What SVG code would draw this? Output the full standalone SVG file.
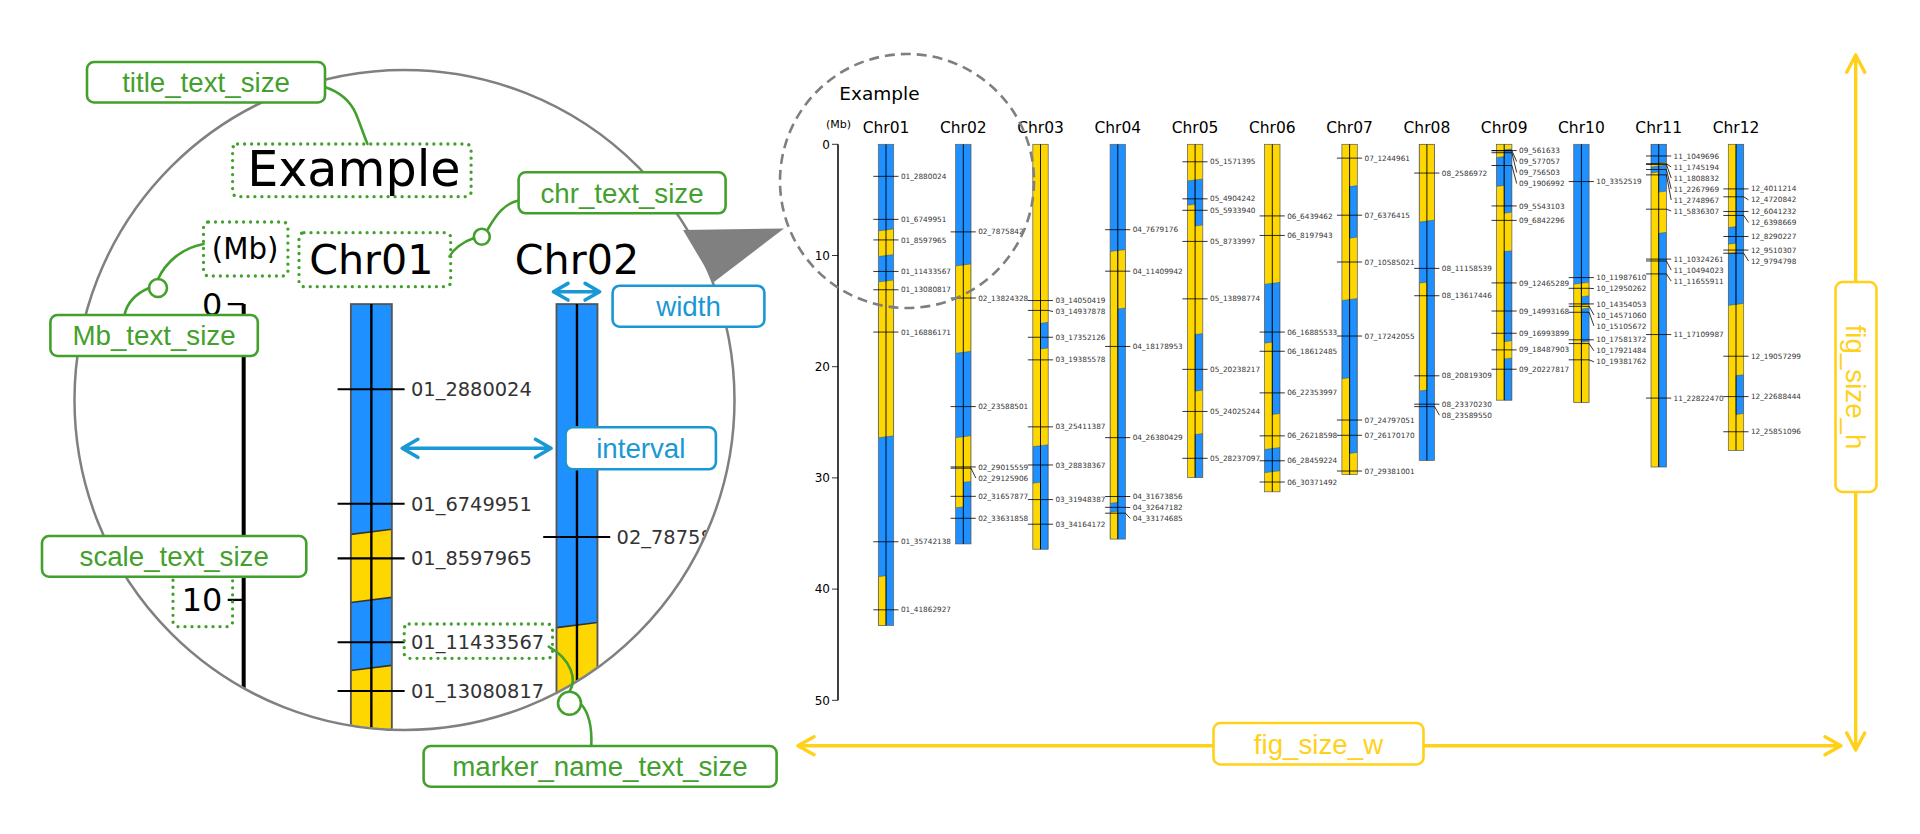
<svg xmlns="http://www.w3.org/2000/svg" xmlns:xlink="http://www.w3.org/1999/xlink" width="1920" height="834" viewBox="0 0 1920 834">
<style>
.cn{font-family:'DejaVu Sans',sans-serif;font-size:15.5px;text-anchor:middle;fill:#000}
.ml{font-family:'DejaVu Sans',sans-serif;font-size:7.3px;fill:#333}
.tl{font-family:'DejaVu Sans',sans-serif;font-size:12px;text-anchor:end;fill:#000}
.b{fill:#1E90FF}
.y{fill:#FFD700}
.sb{fill:#1E90FF;stroke:#333;stroke-width:0.055}
.sy{fill:#FFD700;stroke:#333;stroke-width:0.055}
.ol{fill:none;stroke:#555;stroke-width:0.7}
.cl{fill:none;stroke:#000;stroke-width:0.9}
.tk{fill:none;stroke:#000;stroke-width:0.8}
.gb{fill:#fff;stroke:#43a02d;stroke-width:2.6}
.bb{fill:#fff;stroke:#1a98d5;stroke-width:2.6}
.yb{fill:#fff;stroke:#FFD11A;stroke-width:2.6}
.db{fill:none;stroke:#43a02d;stroke-width:3.3;stroke-dasharray:0.01 7;stroke-linecap:round}
.at{font-family:'Liberation Sans',Arial,sans-serif;font-size:27.7px;text-anchor:middle}
.gt{fill:#43a02d}.bt{fill:#1a98d5}.yt{fill:#FFD11A}
.gc{fill:none;stroke:#43a02d;stroke-width:2.6;stroke-linecap:round}
.ba{fill:none;stroke:#1a98d5;stroke-width:3.6;stroke-linecap:round;stroke-linejoin:round}
.ya{fill:none;stroke:#FFD11A;stroke-width:3.4;stroke-linecap:round;stroke-linejoin:round}
</style>
<defs>
<clipPath id="magclip"><circle cx="404.5" cy="400" r="329"/></clipPath>
<clipPath id="k1"><rect x="-7.7" y="0" width="15.4" height="481.2"/></clipPath>
<clipPath id="k2"><rect x="-7.7" y="0" width="15.4" height="399.6"/></clipPath>
<clipPath id="k3"><rect x="-7.7" y="0" width="15.4" height="404.9"/></clipPath>
<clipPath id="k4"><rect x="-7.7" y="0" width="15.4" height="394.8"/></clipPath>
<clipPath id="k5"><rect x="-7.7" y="0" width="15.4" height="333.2"/></clipPath>
<clipPath id="k6"><rect x="-7.7" y="0" width="15.4" height="347.5"/></clipPath>
<clipPath id="k7"><rect x="-7.7" y="0" width="15.4" height="330.3"/></clipPath>
<clipPath id="k8"><rect x="-7.7" y="0" width="15.4" height="316.3"/></clipPath>
<clipPath id="k9"><rect x="-7.7" y="0" width="15.4" height="255.9"/></clipPath>
<clipPath id="k10"><rect x="-7.7" y="0" width="15.4" height="258.1"/></clipPath>
<clipPath id="k11"><rect x="-7.7" y="0" width="15.4" height="322.7"/></clipPath>
<clipPath id="k12"><rect x="-7.7" y="0" width="15.4" height="306.1"/></clipPath>
</defs>
<rect width="1920" height="834" fill="#fff"/>

<g id="chart">
<g id="chart-title">
<text x="839.3" y="100" font-family="'DejaVu Sans',sans-serif" font-size="18.5px">Example</text>
<text x="826" y="127.5" font-family="'DejaVu Sans',sans-serif" font-size="11px">(Mb)</text>
</g>
<g id="axis">
<path d="M838 144.3V700.3" stroke="#000" stroke-width="1.5" fill="none"/>
<path class="tk" stroke-width="1.2" d="M832 144.3H838M832 255.5H838M832 366.7H838M832 477.9H838M832 589.1H838M832 700.3H838"/>
<text class="tl" x="830" y="148.6">0</text>
<text class="tl" x="830" y="259.8">10</text>
<text class="tl" x="830" y="371">20</text>
<text class="tl" x="830" y="482.2">30</text>
<text class="tl" x="830" y="593.4">40</text>
<text class="tl" x="830" y="704.6">50</text>
</g>

<g id="chr01" transform="translate(886,144.3)">
<text class="cn" y="-11.3">Chr01</text>
<g clip-path="url(#k1)"><rect class="b" x="-7.7" width="15.4" height="481.2"/>
<g transform="matrix(1,-0.125,0,1,0,0) scale(1,11.12)">
<rect class="sy" x="-7.7" y="7.7" width="15.4" height="2.3"/>
<rect class="sy" x="-7.7" y="12.3" width="15.4" height="14"/>
<rect class="sy" x="-7.7" y="38.8" width="7.7" height="4.8"/>
</g></g>
<rect class="ol" x="-7.7" width="15.4" height="481.2"/>
<path class="cl" d="M0 0V481.2"/>
<path class="tk" d="M-12.7 32.03H12.5M-12.7 75.06H12.5M-12.7 95.61H12.5M-12.7 127.14H12.5M-12.7 145.46H12.5M-12.7 187.77H12.5M-12.7 397.45H12.5M-12.7 465.52H12.5"/>
<g class="ml">
<text x="14.9" y="34.63">01_2880024</text>
<text x="14.9" y="77.66">01_6749951</text>
<text x="14.9" y="98.21">01_8597965</text>
<text x="14.9" y="129.74">01_11433567</text>
<text x="14.9" y="148.06">01_13080817</text>
<text x="14.9" y="190.37">01_16886171</text>
<text x="14.9" y="400.05">01_35742138</text>
<text x="14.9" y="468.12">01_41862927</text>
</g>
</g>

<g id="chr02" transform="translate(963.3,144.3)">
<text class="cn" y="-11.3">Chr02</text>
<g clip-path="url(#k2)"><rect class="b" x="-7.7" width="15.4" height="399.6"/>
<g transform="matrix(1,-0.125,0,1,0,0) scale(1,11.12)">
<rect class="sy" x="-7.7" y="10.85" width="15.4" height="7.85"/>
<rect class="sy" x="-7.7" y="26.3" width="7.7" height="6.3"/>
<rect class="sy" x="0" y="26.3" width="7.7" height="4.1"/>
</g></g>
<rect class="ol" x="-7.7" width="15.4" height="399.6"/>
<path class="cl" d="M0 0V399.6"/>
<path class="tk" d="M-12.7 87.58H12.5M-12.7 153.73H12.5M-12.7 262.3H12.5M-12.7 322.65H12.5M-12.7 323.88H7.7L12.5 333.65M-12.7 352.04H12.5M-12.7 373.99H12.5"/>
<g class="ml">
<text x="14.9" y="90.18">02_7875842</text>
<text x="14.9" y="156.33">02_13824328</text>
<text x="14.9" y="264.9">02_23588501</text>
<text x="14.9" y="325.25">02_29015559</text>
<text x="14.9" y="336.25">02_29125906</text>
<text x="14.9" y="354.64">02_31657877</text>
<text x="14.9" y="376.59">02_33631858</text>
</g>
</g>

<g id="chr03" transform="translate(1040.5,144.3)">
<text class="cn" y="-11.3">Chr03</text>
<g clip-path="url(#k3)"><rect class="y" x="-7.7" width="15.4" height="404.9"/>
<g transform="matrix(1,-0.125,0,1,0,0) scale(1,11.12)">
<rect class="sb" x="0" y="16.1" width="7.7" height="2.3"/>
<rect class="sb" x="-7.7" y="27.1" width="7.7" height="3.3"/>
<rect class="sb" x="0" y="27.1" width="7.7" height="9.6"/>
</g></g>
<rect class="ol" x="-7.7" width="15.4" height="404.9"/>
<path class="cl" d="M0 0V404.9"/>
<path class="tk" d="M-12.7 156.24H12.5M-12.7 166.11H7.7L12.5 167.24M-12.7 192.96H12.5M-12.7 215.57H12.5M-12.7 282.57H12.5M-12.7 320.68H12.5M-12.7 355.27H12.5M-12.7 379.91H12.5"/>
<g class="ml">
<text x="14.9" y="158.84">03_14050419</text>
<text x="14.9" y="169.84">03_14937878</text>
<text x="14.9" y="195.56">03_17352126</text>
<text x="14.9" y="218.17">03_19385578</text>
<text x="14.9" y="285.17">03_25411387</text>
<text x="14.9" y="323.28">03_28838367</text>
<text x="14.9" y="357.87">03_31948387</text>
<text x="14.9" y="382.51">03_34164172</text>
</g>
</g>

<g id="chr04" transform="translate(1117.8,144.3)">
<text class="cn" y="-11.3">Chr04</text>
<g clip-path="url(#k4)"><rect class="b" x="-7.7" width="15.4" height="394.8"/>
<g transform="matrix(1,-0.125,0,1,0,0) scale(1,11.12)">
<rect class="sy" x="-7.7" y="9.56" width="7.7" height="22.64"/>
<rect class="sy" x="0" y="9.56" width="7.7" height="5.24"/>
<rect class="sy" x="-7.7" y="33" width="7.7" height="2.8"/>
</g></g>
<rect class="ol" x="-7.7" width="15.4" height="394.8"/>
<path class="cl" d="M0 0V394.8"/>
<path class="tk" d="M-12.7 85.39H12.5M-12.7 126.88H12.5M-12.7 202.15H12.5M-12.7 293.35H12.5M-12.7 352.21H12.5M-12.7 363.04H7.7L12.5 363.21M-12.7 368.9H7.7L12.5 374.21"/>
<g class="ml">
<text x="14.9" y="87.99">04_7679176</text>
<text x="14.9" y="129.48">04_11409942</text>
<text x="14.9" y="204.75">04_18178953</text>
<text x="14.9" y="295.95">04_26380429</text>
<text x="14.9" y="354.81">04_31673856</text>
<text x="14.9" y="365.81">04_32647182</text>
<text x="14.9" y="376.81">04_33174685</text>
</g>
</g>

<g id="chr05" transform="translate(1195.1,144.3)">
<text class="cn" y="-11.3">Chr05</text>
<g clip-path="url(#k5)"><rect class="y" x="-7.7" width="15.4" height="333.2"/>
<g transform="matrix(1,-0.125,0,1,0,0) scale(1,11.12)">
<rect class="sb" x="-7.7" y="3.2" width="7.7" height="2.2"/>
<rect class="sb" x="0" y="3.2" width="7.7" height="4.15"/>
<rect class="sb" x="0" y="17.1" width="7.7" height="5.1"/>
<rect class="sb" x="0" y="26.1" width="7.7" height="4.2"/>
</g></g>
<rect class="ol" x="-7.7" width="15.4" height="333.2"/>
<path class="cl" d="M0 0V333.2"/>
<path class="tk" d="M-12.7 17.47H12.5M-12.7 54.53H12.5M-12.7 65.99H12.5M-12.7 97.12H12.5M-12.7 154.55H12.5M-12.7 225.05H12.5M-12.7 267.16H12.5M-12.7 314H12.5"/>
<g class="ml">
<text x="14.9" y="20.07">05_1571395</text>
<text x="14.9" y="57.13">05_4904242</text>
<text x="14.9" y="68.59">05_5933940</text>
<text x="14.9" y="99.72">05_8733997</text>
<text x="14.9" y="157.15">05_13898774</text>
<text x="14.9" y="227.65">05_20238217</text>
<text x="14.9" y="269.76">05_24025244</text>
<text x="14.9" y="316.6">05_28237097</text>
</g>
</g>

<g id="chr06" transform="translate(1272.3,144.3)">
<text class="cn" y="-11.3">Chr06</text>
<g clip-path="url(#k6)"><rect class="y" x="-7.7" width="15.4" height="347.5"/>
<g transform="matrix(1,-0.125,0,1,0,0) scale(1,11.12)">
<rect class="sb" x="-7.7" y="12.5" width="7.7" height="5.3"/>
<rect class="sb" x="0" y="12.5" width="7.7" height="11.8"/>
<rect class="sb" x="-7.7" y="27.35" width="15.4" height="2.1"/>
</g></g>
<rect class="ol" x="-7.7" width="15.4" height="347.5"/>
<path class="cl" d="M0 0V347.5"/>
<path class="tk" d="M-12.7 71.61H12.5M-12.7 91.16H12.5M-12.7 187.77H12.5M-12.7 206.97H12.5M-12.7 248.58H12.5M-12.7 291.55H12.5M-12.7 316.47H12.5M-12.7 337.73H12.5"/>
<g class="ml">
<text x="14.9" y="74.21">06_6439462</text>
<text x="14.9" y="93.76">06_8197943</text>
<text x="14.9" y="190.37">06_16885533</text>
<text x="14.9" y="209.57">06_18612485</text>
<text x="14.9" y="251.18">06_22353997</text>
<text x="14.9" y="294.15">06_26218598</text>
<text x="14.9" y="319.07">06_28459224</text>
<text x="14.9" y="340.33">06_30371492</text>
</g>
</g>

<g id="chr07" transform="translate(1349.6,144.3)">
<text class="cn" y="-11.3">Chr07</text>
<g clip-path="url(#k7)"><rect class="y" x="-7.7" width="15.4" height="330.3"/>
<g transform="matrix(1,-0.125,0,1,0,0) scale(1,11.12)">
<rect class="sb" x="0" y="3.8" width="7.7" height="4.65"/>
<rect class="sb" x="-7.7" y="13.95" width="7.7" height="7.05"/>
<rect class="sb" x="0" y="13.95" width="7.7" height="13.85"/>
</g></g>
<rect class="ol" x="-7.7" width="15.4" height="330.3"/>
<path class="cl" d="M0 0V330.3"/>
<path class="tk" d="M-12.7 13.84H12.5M-12.7 70.91H12.5M-12.7 117.71H12.5M-12.7 191.73H12.5M-12.7 275.74H12.5M-12.7 291.01H12.5M-12.7 326.72H12.5"/>
<g class="ml">
<text x="14.9" y="16.44">07_1244961</text>
<text x="14.9" y="73.51">07_6376415</text>
<text x="14.9" y="120.31">07_10585021</text>
<text x="14.9" y="194.33">07_17242055</text>
<text x="14.9" y="278.34">07_24797051</text>
<text x="14.9" y="293.61">07_26170170</text>
<text x="14.9" y="329.32">07_29381001</text>
</g>
</g>

<g id="chr08" transform="translate(1426.9,144.3)">
<text class="cn" y="-11.3">Chr08</text>
<g clip-path="url(#k8)"><rect class="b" x="-7.7" width="15.4" height="316.3"/>
<g transform="matrix(1,-0.125,0,1,0,0) scale(1,11.12)">
<rect class="sy" x="-7.7" y="-0.3" width="15.4" height="7.2"/>
<rect class="sy" x="-7.7" y="12.4" width="7.7" height="9.7"/>
</g></g>
<rect class="ol" x="-7.7" width="15.4" height="316.3"/>
<path class="cl" d="M0 0V316.3"/>
<path class="tk" d="M-12.7 28.77H12.5M-12.7 124.08H12.5M-12.7 151.43H12.5M-12.7 231.51H12.5M-12.7 259.88H12.5M-12.7 262.32H7.7L12.5 270.88"/>
<g class="ml">
<text x="14.9" y="31.37">08_2586972</text>
<text x="14.9" y="126.68">08_11158539</text>
<text x="14.9" y="154.03">08_13617446</text>
<text x="14.9" y="234.11">08_20819309</text>
<text x="14.9" y="262.48">08_23370230</text>
<text x="14.9" y="273.48">08_23589550</text>
</g>
</g>

<g id="chr09" transform="translate(1504.2,144.3)">
<text class="cn" y="-11.3">Chr09</text>
<g clip-path="url(#k9)"><rect class="y" x="-7.7" width="15.4" height="255.9"/>
<g transform="matrix(1,-0.125,0,1,0,0) scale(1,11.12)">
<rect class="sb" x="-7.7" y="1.1" width="7.7" height="2.6"/>
<rect class="sb" x="0" y="0.5" width="7.7" height="5.7"/>
<rect class="sb" x="0" y="9.65" width="7.7" height="8.1"/>
<rect class="sb" x="0" y="19.3" width="7.7" height="4"/>
</g></g>
<rect class="ol" x="-7.7" width="15.4" height="255.9"/>
<path class="cl" d="M0 0V255.9"/>
<path class="tk" d="M-12.7 6.25H12.5M-12.7 6.42H7.7L12.5 17.25M-12.7 8.41H7.7L12.5 28.25M-12.7 21.21H7.7L12.5 39.25M-12.7 61.64H12.5M-12.7 76.09H12.5M-12.7 138.61H12.5M-12.7 166.72H12.5M-12.7 188.97H12.5M-12.7 205.59H12.5M-12.7 224.93H12.5"/>
<g class="ml">
<text x="14.9" y="8.85">09_561633</text>
<text x="14.9" y="19.85">09_577057</text>
<text x="14.9" y="30.85">09_756503</text>
<text x="14.9" y="41.85">09_1906992</text>
<text x="14.9" y="64.24">09_5543103</text>
<text x="14.9" y="78.69">09_6842296</text>
<text x="14.9" y="141.21">09_12465289</text>
<text x="14.9" y="169.32">09_14993168</text>
<text x="14.9" y="191.57">09_16993899</text>
<text x="14.9" y="208.19">09_18487903</text>
<text x="14.9" y="227.53">09_20227817</text>
</g>
</g>

<g id="chr10" transform="translate(1581.4,144.3)">
<text class="cn" y="-11.3">Chr10</text>
<g clip-path="url(#k10)"><rect class="b" x="-7.7" width="15.4" height="258.1"/>
<g transform="matrix(1,-0.125,0,1,0,0) scale(1,11.12)">
<rect class="sy" x="-7.7" y="12.5" width="7.7" height="11"/>
<rect class="sy" x="0" y="12.5" width="7.7" height="1.2"/>
<rect class="sy" x="0" y="14.45" width="7.7" height="0.35"/>
<rect class="sy" x="0" y="17.8" width="7.7" height="5.7"/>
</g></g>
<rect class="ol" x="-7.7" width="15.4" height="258.1"/>
<path class="cl" d="M0 0V258.1"/>
<path class="tk" d="M-12.7 37.28H12.5M-12.7 133.3H12.5M-12.7 144.01H7.7L12.5 144.3M-12.7 159.62H12.5M-12.7 162.03H7.7L12.5 170.62M-12.7 167.97H7.7L12.5 181.62M-12.7 195.51H12.5M-12.7 199.29H7.7L12.5 206.51M-12.7 215.52H7.7L12.5 217.51"/>
<g class="ml">
<text x="14.9" y="39.88">10_3352519</text>
<text x="14.9" y="135.9">10_11987610</text>
<text x="14.9" y="146.9">10_12950262</text>
<text x="14.9" y="162.22">10_14354053</text>
<text x="14.9" y="173.22">10_14571060</text>
<text x="14.9" y="184.22">10_15105672</text>
<text x="14.9" y="198.11">10_17581372</text>
<text x="14.9" y="209.11">10_17921484</text>
<text x="14.9" y="220.11">10_19381762</text>
</g>
</g>

<g id="chr11" transform="translate(1658.7,144.3)">
<text class="cn" y="-11.3">Chr11</text>
<g clip-path="url(#k11)"><rect class="y" x="-7.7" width="15.4" height="322.7"/>
<g transform="matrix(1,-0.125,0,1,0,0) scale(1,11.12)">
<rect class="sb" x="-7.7" y="-0.3" width="15.4" height="2"/>
<rect class="sb" x="-7.7" y="1.95" width="7.7" height="0.55"/>
<rect class="sb" x="0" y="1.95" width="7.7" height="2.35"/>
<rect class="sb" x="0" y="8" width="7.7" height="21.3"/>
</g></g>
<rect class="ol" x="-7.7" width="15.4" height="322.7"/>
<path class="cl" d="M0 0V322.7"/>
<path class="tk" d="M-12.7 11.67H12.5M-12.7 19.41H7.7L12.5 22.67M-12.7 20.11H7.7L12.5 33.67M-12.7 25.22H7.7L12.5 44.67M-12.7 30.57H7.7L12.5 55.67M-12.7 64.9H7.7L12.5 66.67M-12.7 114.81H12.5M-12.7 116.69H7.7L12.5 125.81M-12.7 129.61H7.7L12.5 136.81M-12.7 190.26H12.5M-12.7 253.79H12.5"/>
<g class="ml">
<text x="14.9" y="14.27">11_1049696</text>
<text x="14.9" y="25.27">11_1745194</text>
<text x="14.9" y="36.27">11_1808832</text>
<text x="14.9" y="47.27">11_2267969</text>
<text x="14.9" y="58.27">11_2748967</text>
<text x="14.9" y="69.27">11_5836307</text>
<text x="14.9" y="117.41">11_10324261</text>
<text x="14.9" y="128.41">11_10494023</text>
<text x="14.9" y="139.41">11_11655911</text>
<text x="14.9" y="192.86">11_17109987</text>
<text x="14.9" y="256.39">11_22822470</text>
</g>
</g>

<g id="chr12" transform="translate(1736,144.3)">
<text class="cn" y="-11.3">Chr12</text>
<g clip-path="url(#k12)"><rect class="y" x="-7.7" width="15.4" height="306.1"/>
<g transform="matrix(1,-0.125,0,1,0,0) scale(1,11.12)">
<rect class="sb" x="-7.7" y="7.4" width="7.7" height="1.5"/>
<rect class="sb" x="-7.7" y="9.75" width="7.7" height="4.65"/>
<rect class="sb" x="0" y="-0.3" width="7.7" height="14.7"/>
<rect class="sb" x="0" y="20.8" width="7.7" height="3.5"/>
</g></g>
<rect class="ol" x="-7.7" width="15.4" height="306.1"/>
<path class="cl" d="M0 0V306.1"/>
<path class="tk" d="M-12.7 44.6H12.5M-12.7 52.5H7.7L12.5 55.6M-12.7 67.18H12.5M-12.7 71.15H7.7L12.5 78.18M-12.7 92.19H12.5M-12.7 105.75H12.5M-12.7 108.92H7.7L12.5 116.75M-12.7 211.92H12.5M-12.7 252.3H12.5M-12.7 287.46H12.5"/>
<g class="ml">
<text x="14.9" y="47.2">12_4011214</text>
<text x="14.9" y="58.2">12_4720842</text>
<text x="14.9" y="69.78">12_6041232</text>
<text x="14.9" y="80.78">12_6398669</text>
<text x="14.9" y="94.79">12_8290227</text>
<text x="14.9" y="108.35">12_9510307</text>
<text x="14.9" y="119.35">12_9794798</text>
<text x="14.9" y="214.52">12_19057299</text>
<text x="14.9" y="254.9">12_22688444</text>
<text x="14.9" y="290.06">12_25851096</text>
</g>
</g>
</g>

<g id="magnifier">
<g clip-path="url(#magclip)">
<use href="#chart" xlink:href="#chart" transform="matrix(2.66,0,0,2.66,-1985.4,-79.74)"/>
</g>
<circle cx="404.5" cy="400" r="330" fill="none" stroke="#808080" stroke-width="2.5"/>
</g>

<g id="zoom-region">
<circle cx="907" cy="181" r="127" fill="none" stroke="#7f7f7f" stroke-width="2.6" stroke-dasharray="10 6"/>
<polygon points="683,230 784,228.5 714,282" fill="#808080"/>
</g>

<g id="connectors">
<path class="gc" d="M324.7 87C340 92 350 100 356 114C361 126 364 136 367.5 144"/>
<path class="gc" d="M518.6 200.5C505 203 496 215 488 229M474 238C462 242 453 250 449.5 256.5"/>
<circle class="gc" cx="481.8" cy="236.7" r="8"/>
<path class="gc" d="M124.5 315C127 303 135 294 149 288M158 279C166 262 182 248 203.5 244"/>
<circle class="gc" cx="158" cy="288" r="9"/>
<path class="gc" d="M591.3 746C592 730 590 714 581 704M569.5 691.5C577 680 572 660 548.7 646.7"/>
<circle class="gc" cx="569.5" cy="703.3" r="11.5"/>
<path class="ba" d="M402.3 448.3H551M417.8 439.3L402.3 448.3L417.8 457.3M535.5 439.3L551 448.3L535.5 457.3"/>
<path class="ba" d="M553.5 291.7H599.6M568 283.4L553.5 291.7L568 300M585.1 283.4L599.6 291.7L585.1 300"/>
<path class="ya" d="M1855.7 55V750M1846.7 72.3L1855.7 55L1864.7 72.3M1846.7 733L1855.7 750L1864.7 733"/>
<path class="ya" d="M798 745.7H1841M1825 736.7L1841 745.7L1825 754.7M814 736.7L798 745.7L814 754.7"/>
</g>

<g id="highlight-boxes">
<rect class="db" x="232.6" y="144" width="238.5" height="52.7" rx="5"/>
<rect class="db" x="203.5" y="222" width="84.4" height="54" rx="5"/>
<rect class="db" x="299" y="232.7" width="151.7" height="54" rx="5"/>
<rect class="db" x="173" y="570" width="59.6" height="56.7" rx="5"/>
<rect class="db" x="404.2" y="624" width="148.3" height="34.3" rx="5"/>
</g>

<g id="title_text_size"><rect class="gb" x="87" y="62" width="238" height="40.5" rx="7"/><text class="at gt" x="206" y="91.8">title_text_size</text></g>
<g id="chr_text_size"><rect class="gb" x="518.6" y="172.3" width="207" height="41" rx="7"/><text class="at gt" x="622" y="202.5">chr_text_size</text></g>
<g id="Mb_text_size"><rect class="gb" x="50.4" y="315" width="207.4" height="41" rx="7"/><text class="at gt" x="154" y="345.3">Mb_text_size</text></g>
<g id="scale_text_size"><rect class="gb" x="42" y="536" width="264.3" height="40.7" rx="7"/><text class="at gt" x="174.2" y="566">scale_text_size</text></g>
<g id="marker_name_text_size"><rect class="gb" x="423.6" y="746" width="353" height="40.7" rx="7"/><text class="at gt" x="600" y="776">marker_name_text_size</text></g>
<g id="width"><rect class="bb" x="612.6" y="285.7" width="151.8" height="41" rx="7"/><text class="at bt" x="688.5" y="316">width</text></g>
<g id="interval"><rect class="bb" x="565.6" y="427.3" width="150.3" height="42" rx="7"/><text class="at bt" x="640.8" y="458">interval</text></g>
<g id="fig_size_w"><rect class="yb" x="1213.5" y="723" width="210" height="41.5" rx="7"/><text class="at yt" x="1318.5" y="753.5">fig_size_w</text></g>
<g id="fig_size_h"><rect class="yb" x="1835.5" y="282" width="41" height="210" rx="7"/><text class="at yt" transform="translate(1856.2,387) rotate(90)" y="9.8">fig_size_h</text></g>
</svg>
